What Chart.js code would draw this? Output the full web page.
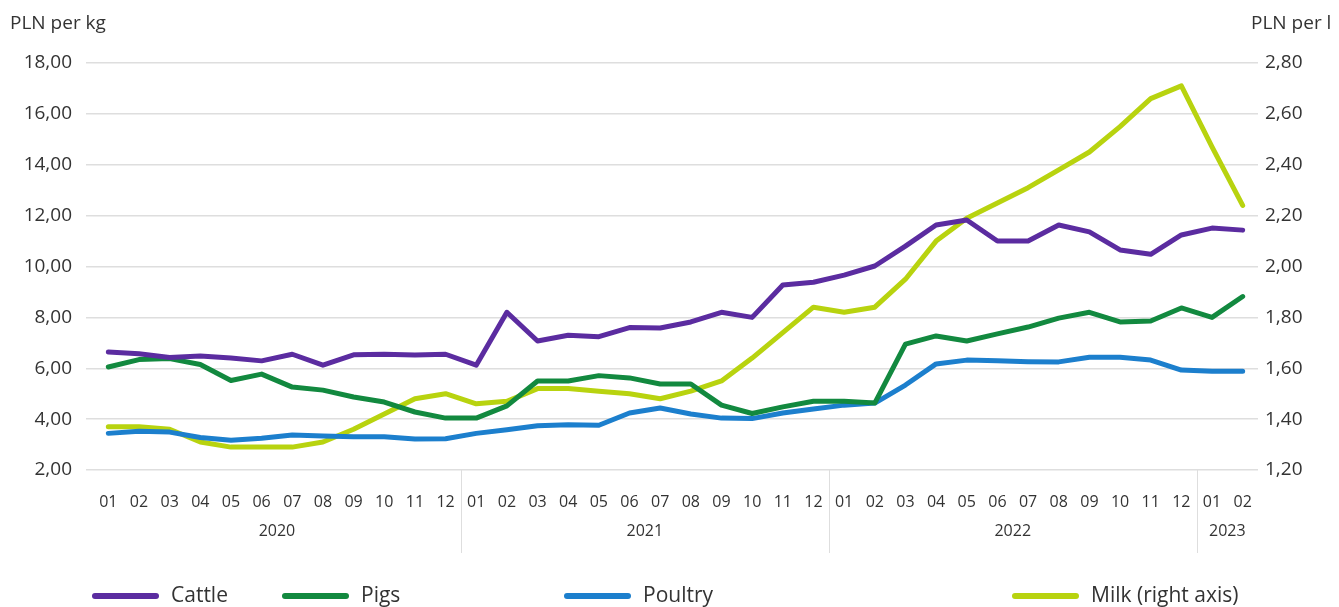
<!DOCTYPE html>
<html>
<head>
<meta charset="utf-8">
<title>Livestock and milk prices</title>
<style>
  html, body { margin: 0; padding: 0; background: #fff; }
  #wrap { position: relative; width: 1339px; height: 607px; }
</style>
</head>
<body>
<div id="wrap"><canvas id="myChart"></canvas></div>

<script src="https://cdn.jsdelivr.net/npm/chart.js"></script>
<script>
  // monthly prices, 2020-01 .. 2023-02
  var months = ['01','02','03','04','05','06','07','08','09','10','11','12',
                '01','02','03','04','05','06','07','08','09','10','11','12',
                '01','02','03','04','05','06','07','08','09','10','11','12',
                '01','02'];
  var years = ['2020', '2021', '2022', '2023'];
  var monthsPerYear = [12, 12, 12, 2];

  // PLN per kg (left axis)
  var cattle = [6.64, 6.57, 6.42, 6.48, 6.40, 6.29, 6.55, 6.12, 6.53, 6.55, 6.52, 6.55,
                6.12, 8.20, 7.07, 7.30, 7.24, 7.60, 7.58, 7.82, 8.20, 8.00, 9.27, 9.38,
                9.66, 10.02, 10.80, 11.63, 11.83, 11.00, 11.00, 11.63, 11.36, 10.65, 10.48, 11.24,
                11.51, 11.43];
  var pigs = [6.05, 6.34, 6.38, 6.15, 5.52, 5.77, 5.26, 5.14, 4.87, 4.67, 4.28, 4.04,
              4.04, 4.52, 5.50, 5.50, 5.71, 5.62, 5.38, 5.38, 4.55, 4.22, 4.48, 4.70,
              4.70, 4.63, 6.95, 7.27, 7.07, 7.35, 7.62, 7.97, 8.20, 7.82, 7.86, 8.37,
              8.00, 8.82];
  var poultry = [3.44, 3.52, 3.49, 3.28, 3.17, 3.25, 3.38, 3.34, 3.31, 3.31, 3.22, 3.23,
                 3.44, 3.58, 3.74, 3.78, 3.76, 4.24, 4.44, 4.20, 4.04, 4.02, 4.24, 4.40,
                 4.55, 4.63, 5.34, 6.17, 6.32, 6.29, 6.26, 6.25, 6.43, 6.43, 6.32, 5.93,
                 5.88, 5.88];
  // PLN per litre (right axis)
  var milk = [1.37, 1.37, 1.36, 1.31, 1.29, 1.29, 1.29, 1.31, 1.36, 1.42, 1.48, 1.50,
              1.46, 1.47, 1.52, 1.52, 1.51, 1.50, 1.48, 1.51, 1.55, 1.64, 1.74, 1.84,
              1.82, 1.84, 1.95, 2.10, 2.19, 2.25, 2.31, 2.38, 2.45, 2.55, 2.66, 2.71,
              2.47, 2.24];

  var textColor = '#333333';
  var gridColor = '#dedede';
  var fontFamily = '"Open Sans", Roboto, sans-serif';

  function plnFormat(v) {
    return v.toFixed(2).replace('.', ',');
  }

  function series(label, values, color, axis) {
    return {
      label: label,
      data: values,
      borderColor: color,
      backgroundColor: color,
      borderWidth: 5,
      pointRadius: 0,
      tension: 0,
      borderCapStyle: 'round',
      borderJoinStyle: 'round',
      yAxisID: axis
    };
  }

  // unit titles, year row, year separators and the legend
  var extras = {
    id: 'extras',
    afterDraw: function(chart) {
      var ctx = chart.ctx;
      var xs = chart.scales.x;
      var area = chart.chartArea;
      ctx.save();
      ctx.fillStyle = textColor;
      ctx.textBaseline = 'middle';

      ctx.font = '19px ' + fontFamily;
      ctx.textAlign = 'left';
      ctx.fillText('PLN per kg', 10, 24);
      ctx.fillText('PLN per l', 1251, 24);

      var start = 0;
      ctx.font = '16px ' + fontFamily;
      ctx.textAlign = 'center';
      years.forEach(function(yr, i) {
        var end = start + monthsPerYear[i] - 1;
        var cx = (xs.getPixelForValue(start) + xs.getPixelForValue(end)) / 2;
        ctx.fillText(yr, cx, 531);
        if (i < years.length - 1) {
          var sx = Math.round((xs.getPixelForValue(end) + xs.getPixelForValue(end + 1)) / 2) + 0.5;
          ctx.strokeStyle = gridColor;
          ctx.lineWidth = 1;
          ctx.beginPath();
          ctx.moveTo(sx, area.bottom);
          ctx.lineTo(sx, area.bottom + 83);
          ctx.stroke();
        }
        start = end + 1;
      });

      var legendX = [92, 282, 564, 1012];
      ctx.font = '21px ' + fontFamily;
      ctx.textAlign = 'left';
      ctx.lineCap = 'round';
      ctx.lineWidth = 6;
      chart.data.datasets.forEach(function(ds, i) {
        var lx = legendX[i];
        ctx.strokeStyle = ds.borderColor;
        ctx.beginPath();
        ctx.moveTo(lx + 3, 596);
        ctx.lineTo(lx + 64, 596);
        ctx.stroke();
        ctx.fillText(ds.label, lx + 79, 596);
      });
      ctx.restore();
    }
  };

  var ctx = document.getElementById('myChart').getContext('2d');
  var myChart = new Chart(ctx, {
    type: 'line',
    data: {
      labels: months,
      datasets: [
        series('Cattle', cattle, '#5b2ca0', 'y'),
        series('Pigs', pigs, '#12893f', 'y'),
        series('Poultry', poultry, '#1c7fcd', 'y'),
        series('Milk (right axis)', milk, '#b8d30f', 'y1')
      ]
    },
    options: {
      responsive: true,
      maintainAspectRatio: false,
      animation: false,
      layout: { padding: { top: 63, left: 0, right: 0, bottom: 0 } },
      plugins: {
        legend: { display: false },
        tooltip: { enabled: false }
      },
      scales: {
        x: {
          type: 'category',
          offset: true,
          grid: { display: false },
          border: { display: false },
          ticks: {
            color: textColor,
            font: { family: fontFamily, size: 16 },
            padding: 15,
            maxRotation: 0,
            autoSkip: false
          },
          afterFit: function(scale) { scale.height = 137; }
        },
        y: {
          position: 'left',
          min: 2,
          max: 18,
          border: { display: false },
          grid: { color: gridColor, lineWidth: 1.5, tickLength: 7 },
          ticks: {
            stepSize: 2,
            color: textColor,
            font: { family: fontFamily, size: 19 },
            padding: 14,
            callback: plnFormat
          },
          afterFit: function(scale) { scale.width = 93; }
        },
        y1: {
          position: 'right',
          min: 1.2,
          max: 2.8,
          border: { display: false },
          grid: { drawOnChartArea: false, drawTicks: false },
          ticks: {
            stepSize: 0.2,
            color: textColor,
            font: { family: fontFamily, size: 19 },
            padding: 7,
            callback: plnFormat
          },
          afterFit: function(scale) { scale.width = 81; }
        }
      }
    },
    plugins: [extras]
  });
</script>
</body>
</html>
